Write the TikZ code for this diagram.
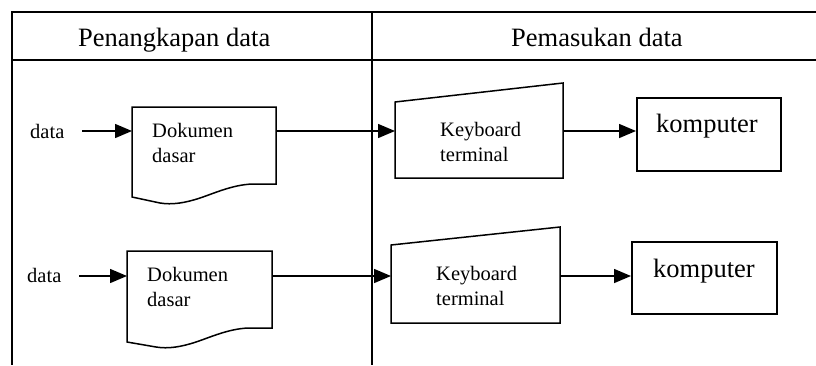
\documentclass[tikz,border=0pt]{standalone}
\usepackage{fontspec}
\setmainfont{Liberation Serif}
\usetikzlibrary{arrows.meta}
\begin{document}
\begin{tikzpicture}[x=1pt,y=1pt,
  line/.style={line width=1.5pt},
  arr/.style={line width=1.5pt,-{Triangle[length=17pt,width=14pt]}},
  big/.style={font=\fontsize{26.5}{30}\selectfont, inner sep=0, anchor=base west},
  small/.style={font=\fontsize{20.5}{25}\selectfont, inner sep=0, anchor=base west, align=left},
  area/.style={rectangle, inner sep=0, anchor=north west},
]
\useasboundingbox (0,0) rectangle (816,-365);
% table
\draw[line] (816,-12) -- (12,-12) -- (12,-365);
\draw[line] (12,-60) -- (816,-60);
\draw[line] (372,-12) -- (372,-365);
\node[big] (h1) at (78,-46) {Penangkapan data};
\node[big] (h2) at (511,-46) {Pemasukan data};

% row 1
\node[small] (data1) at (30,-138) {data};
\node[area, minimum width=144, minimum height=77] (doc1) at (132,-107) {};
\draw[line] (132,-197) -- (132,-107) -- (276,-107) -- (276,-184) -- (252,-184)
  .. controls (232,-185) and (215,-193) .. (200,-198)
  .. controls (185,-203) and (172,-205) .. (160,-203) -- cycle;
\node[small] (doc1t) at (152,-162) {Dokumen\\dasar};
\node[area, minimum width=168, minimum height=95] (kb1) at (395,-83) {};
\draw[line] (395,-178) -- (395,-102) -- (563,-83) -- (563,-178) -- cycle;
\node[small] (kb1t) at (440,-161) {Keyboard\\terminal};
\node[area, draw, line, minimum width=144, minimum height=73] (komp1) at (636,-97) {};
\node[big] (komp1t) at (656,-132) {komputer};
\coordinate (a1) at (82,-131);
\draw[arr] (a1) -- (a1 -| doc1.west);
\draw[arr] (doc1.east |- a1) -- (a1 -| kb1.west);
\draw[arr] (kb1.east |- a1) -- (a1 -| komp1.west);

% row 2
\node[small] (data2) at (27,-282) {data};
\node[area, minimum width=145, minimum height=77] (doc2) at (127,-251) {};
\draw[line] (127,-342) -- (127,-251) -- (272,-251) -- (272,-328) -- (248,-328)
  .. controls (228,-329) and (211,-337) .. (196,-342)
  .. controls (181,-347) and (168,-349) .. (156,-347) -- cycle;
\node[small] (doc2t) at (147,-306) {Dokumen\\dasar};
\node[area, minimum width=169, minimum height=96] (kb2) at (391,-227) {};
\draw[line] (391,-323) -- (391,-245) -- (560,-227) -- (560,-323) -- cycle;
\node[small] (kb2t) at (436,-305) {Keyboard\\terminal};
\node[area, draw, line, minimum width=145, minimum height=72] (komp2) at (631,-241) {};
\node[big] (komp2t) at (653,-277) {komputer};
\coordinate (a2) at (79,-276);
\draw[arr] (a2) -- (a2 -| doc2.west);
\draw[arr] (doc2.east |- a2) -- (a2 -| kb2.west);
\draw[arr] (kb2.east |- a2) -- (a2 -| komp2.west);
\end{tikzpicture}
\end{document}
